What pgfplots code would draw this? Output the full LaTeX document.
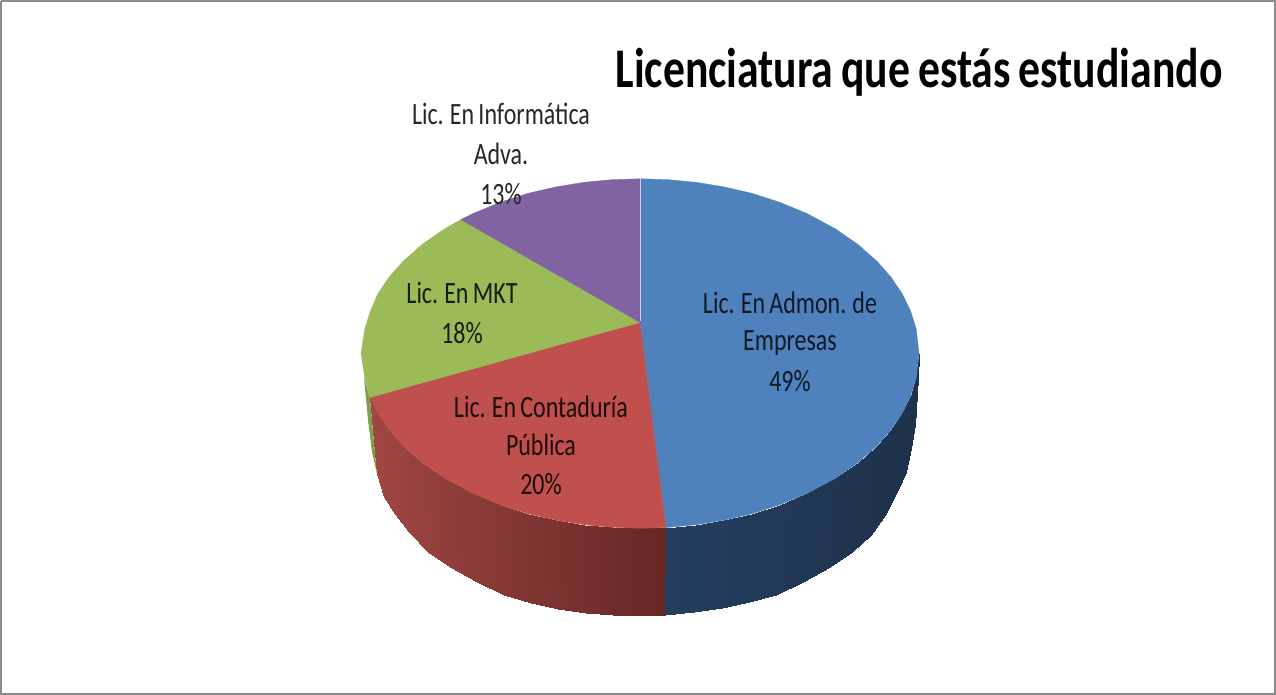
\documentclass[border=0pt]{standalone}
\usepackage{fontspec}
\setmainfont[WordSpace=0.8]{Carlito}
\usepackage{pgfplots}
\pgfplotsset{compat=1.18}
\definecolor{pblue}{HTML}{4F81BD}
\definecolor{pred}{HTML}{C0504D}
\definecolor{pgreen}{HTML}{9BBB59}
\definecolor{ppurple}{HTML}{8064A2}
\definecolor{gwall}{HTML}{7F9F4A}
\pgfplotsset{
 colormap={redside}{rgb255=(160,70,67) rgb255=(104,40,38)},
 colormap={blueside}{rgb255=(36,62,96) rgb255=(30,50,75)},
}
\newcommand{\lab}[4]{\node[text=#4,font=\fontsize{31}{31}\selectfont,inner sep=0pt] at (axis cs:#1,#2) {\scalebox{0.773}[1]{#3}};}
\begin{document}
\begin{tikzpicture}
\begin{axis}[
 scale only axis, width=1276pt, height=697pt,
 xmin=0, xmax=1276, ymin=0, ymax=694, y dir=reverse,
 hide axis, clip=false, point meta min=0, point meta max=1,
]
% frame
\addplot[draw=white!55!black, line width=2pt] coordinates {(1,3) (1275,3) (1275,693) (1,693) (1,3)};
% green wall
\addplot[fill=gwall, draw=none] coordinates {(364,378) (370,398) (377,474) (372,452) (368,420) (364,378)};
% red wall strips: x y meta
\addplot[patch, patch type=rectangle, colormap name=redside, shader=interp, point meta=explicit]
 table[meta=m] {
x y m
370.0 397.7 0.00
377.7 413.3 0.03
384.3 497.0 0.03
376.7 474.0 0.00
377.7 413.3 0.03
388.9 429.9 0.07
395.2 514.0 0.07
384.3 497.0 0.03
388.9 429.9 0.07
402.9 445.7 0.13
408.8 532.0 0.13
395.2 514.0 0.07
402.9 445.7 0.13
422.4 462.9 0.20
427.8 551.4 0.20
408.8 532.0 0.13
422.4 462.9 0.20
444.7 478.2 0.29
449.6 566.4 0.29
427.8 551.4 0.20
444.7 478.2 0.29
472.6 493.2 0.38
476.8 581.0 0.38
449.6 566.4 0.29
472.6 493.2 0.38
500.5 504.7 0.47
504.0 594.0 0.47
476.8 581.0 0.38
500.5 504.7 0.47
528.4 513.6 0.57
531.2 602.0 0.57
504.0 594.0 0.47
528.4 513.6 0.57
556.3 520.0 0.66
558.4 608.0 0.66
531.2 602.0 0.57
556.3 520.0 0.66
584.2 524.5 0.76
585.6 612.5 0.76
558.4 608.0 0.66
584.2 524.5 0.76
612.1 527.1 0.86
612.8 614.2 0.86
585.6 612.5 0.76
612.1 527.1 0.86
640.0 528.0 0.96
640.0 615.0 0.96
612.8 614.2 0.86
640.0 528.0 0.96
665.9 527.3 1.00
665.3 614.3 1.00
640.0 615.0 0.96
};
% blue wall strips
\addplot[patch, patch type=rectangle, colormap name=blueside, shader=interp, point meta=explicit]
 table[meta=m] {
x y m
665.9 527.3 0.00
695.8 524.5 0.10
694.4 611.6 0.10
665.3 614.3 0.00
695.8 524.5 0.10
723.7 520.0 0.20
721.6 607.2 0.20
694.4 611.6 0.10
723.7 520.0 0.20
751.6 513.6 0.32
748.8 601.0 0.32
721.6 607.2 0.20
751.6 513.6 0.32
779.5 504.7 0.45
776.0 594.0 0.45
748.8 601.0 0.32
779.5 504.7 0.45
807.4 493.2 0.58
803.2 581.0 0.58
776.0 594.0 0.45
807.4 493.2 0.58
835.3 478.2 0.70
830.4 566.4 0.70
803.2 581.0 0.58
835.3 478.2 0.70
857.6 462.9 0.80
852.2 551.4 0.80
830.4 566.4 0.70
857.6 462.9 0.80
877.2 445.7 0.90
871.2 534.6 0.90
852.2 551.4 0.80
877.2 445.7 0.90
891.1 429.9 1.00
885.0 515.0 1.00
871.2 534.6 0.90
891.1 429.9 1.00
902.3 413.3 1.00
897.0 492.0 1.00
885.0 515.0 1.00
902.3 413.3 1.00
910.6 396.3 1.00
906.0 472.0 1.00
897.0 492.0 1.00
910.6 396.3 1.00
913.4 388.6 1.00
911.0 448.0 1.00
906.0 472.0 1.00
913.4 388.6 1.00
916.2 378.5 1.00
914.5 425.0 1.00
911.0 448.0 1.00
916.2 378.5 1.00
919.0 354.0 1.00
918.0 378.0 1.00
914.5 425.0 1.00
};
% top faces
\addplot[fill=pblue, draw=pblue, line width=0.3pt] coordinates {
(640,323) (640,180) (667.9,180.9) (695.8,183.5) (723.7,188) (751.6,194.4) (779.5,203.3) (807.4,214.8)
(835.3,229.8) (857.6,245.1) (877.2,262.3) (891.1,278.1) (902.3,294.7) (910.6,311.7) (916.2,329.5) (919,354)
(916.2,378.5) (910.6,396.3) (902.3,413.3) (891.1,429.9) (877.2,445.7) (857.6,462.9) (835.3,478.2) (807.4,493.2)
(779.5,504.7) (751.6,513.6) (723.7,520) (695.8,524.5) (665.9,527.3) (640,323)};
\addplot[fill=pred, draw=pred, line width=0.3pt] coordinates {
(640,323) (665.9,527.3) (640,528) (612.1,527.1) (584.2,524.5) (556.3,520) (528.4,513.6) (500.5,504.7)
(472.6,493.2) (444.7,478.2) (422.4,462.9) (402.9,445.7) (388.9,429.9) (377.7,413.3) (370,397.7) (640,323)};
\addplot[fill=pgreen, draw=pgreen, line width=0.3pt] coordinates {
(640,323) (370,397.7) (364.8,378.5) (361,354) (364.8,329.5) (370.4,311.7) (377.7,294.7) (388.9,278.1)
(402.9,262.3) (422.4,245.1) (444.7,229.8) (460.9,220.6) (640,323)};
\addplot[fill=ppurple, draw=ppurple, line width=0.3pt] coordinates {
(640,323) (460.9,220.6) (472.6,214.8) (500.5,203.3) (528.4,194.4) (556.3,188) (584.2,183.5) (612.1,180.9) (640,180) (640,323)};
\addplot[draw=blue!20!white, line width=0.8pt] coordinates {(640,180) (640,322)};
% labels
\node[font=\fontsize{56}{56}\selectfont\bfseries,inner sep=0pt] at (axis cs:919,74) {\scalebox{0.78}[1]{Licenciatura que estás estudiando}};
\lab{501}{115}{Lic. En Informática}{black!85}
\lab{501}{155}{Adva.}{black!85}
\lab{501}{195}{13\%}{black!85}
\lab{462}{294}{Lic. En MKT}{black!85!pgreen}
\lab{462}{334}{18\%}{black!85!pgreen}
\lab{541}{407}{Lic. En Contaduría}{black!85!pred}
\lab{541}{445}{Pública}{black!85!pred}
\lab{541}{484}{20\%}{black!85!pred}
\lab{790}{304}{Lic. En Admon. de}{black!80!pblue}
\lab{790}{344}{Empresas}{black!80!pblue}
\lab{790}{381}{49\%}{black!80!pblue}
\end{axis}
\end{tikzpicture}
\end{document}
